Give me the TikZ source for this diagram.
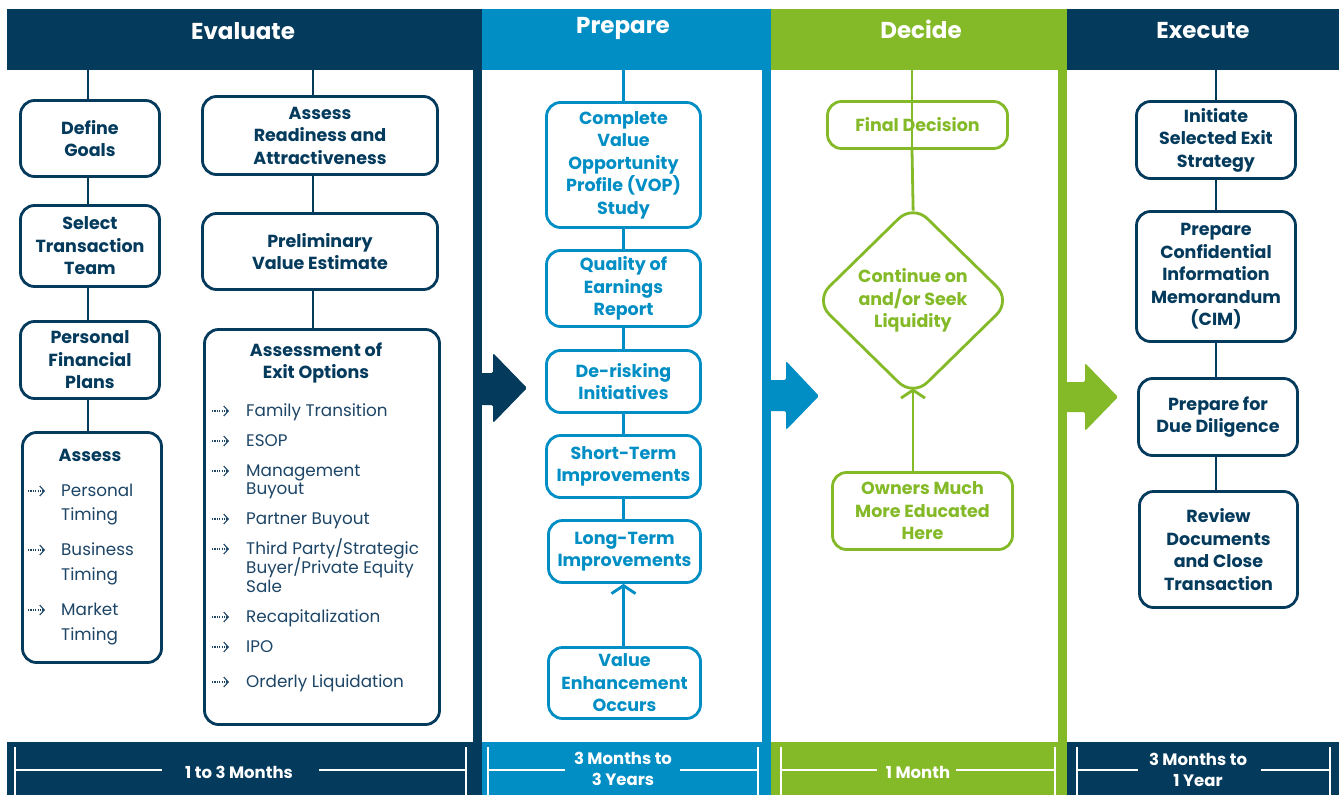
\documentclass[tikz,border=0pt]{standalone}
\usepackage{fontspec}
\setmainfont{Poppins}
\usetikzlibrary{shapes.geometric,arrows.meta,calc}
\definecolor{navy}{HTML}{043A5C}
\definecolor{cblue}{HTML}{008EC4}
\definecolor{cgreen}{HTML}{84BA27}
\definecolor{itemc}{HTML}{1D4566}
\newcommand\bxf{\fontsize{17.5}{22.5}\selectfont\bfseries}
\newcommand\hdf{\fontsize{23}{27}\selectfont\bfseries}
\newcommand\ftf{\fontsize{16.5}{21}\selectfont\bfseries}
\newcommand\itf{\fontsize{16.8}{18}\selectfont}
\tikzset{
  box/.style={draw, rounded corners=14pt, line width=2.8pt, fill=white,
    align=center, inner sep=0pt, font=\bxf},
  navybox/.style={box, draw=navy, text=navy},
  bluebox/.style={box, draw=cblue, text=cblue},
  greenbox/.style={box, draw=cgreen, text=cgreen},
  link/.style={line width=2.8pt},
  uparrow/.style={link, -{Straight Barb[length=8pt,width=24pt,line width=2.8pt]}},
  hdr/.style={inner sep=0pt, font=\hdf, text=white},
  band/.style={rectangle, inner sep=0pt},
  item/.style={anchor=base west, inner sep=0pt, font=\itf, text=itemc},
  bul/.style={itemc, line width=1.1pt, dash pattern=on 1.2pt off 1.2pt,
    -{Straight Barb[length=4.5pt,width=10pt,line width=1.1pt]}},
  ftxt/.style={inner sep=0pt, font=\ftf, text=white, align=center},
  tick/.style={white, line width=2.4pt},
}
\begin{document}
\begin{tikzpicture}[x=1pt,y=-1pt]
\useasboundingbox (0,0) rectangle (1341,795);
\fill[white] (0,0) rectangle (1341,795);

% header bands
\node[band, fill=navy,  minimum width=475, minimum height=61] (hEval) at (244.5,39.5) {};
\node[band, fill=cblue, minimum width=289, minimum height=61] (hPrep) at (626.5,39.5) {};
\node[band, fill=cgreen,minimum width=296, minimum height=61] (hDec)  at (919,39.5) {};
\node[band, fill=navy,  minimum width=272, minimum height=61] (hExe)  at (1203,39.5) {};
\node[hdr] (tEval) at (243,31) {Evaluate};
\node[hdr] (tPrep) at (623,28) {Prepare};
\node[hdr] (tDec)  at (921,29) {Decide};
\node[hdr] (tExe)  at (1203,31) {Execute};

% column separators
\fill[navy]   (473,70) rectangle (482,742);
\fill[cblue]  (762,70) rectangle (771,742);
\fill[cgreen] (1058,70) rectangle (1067,742);

% phase arrows
\fill[navy, rounded corners=1.5pt] (480,373) -- (493,373) -- (493,353) -- (527,388)
  -- (493,423) -- (493,405) -- (480,405) -- cycle;
\fill[cblue, rounded corners=1.5pt] (769,380) -- (786,380) -- (786,361) -- (819,396)
  -- (786,430) -- (786,411) -- (769,411) -- cycle;
\fill[cgreen, rounded corners=1.5pt] (1065,382) -- (1085,382) -- (1085,363) -- (1118,397)
  -- (1085,431) -- (1085,412) -- (1065,412) -- cycle;

% connector columns
\coordinate (lx) at (88,0);
\coordinate (rx) at (313,0);
\coordinate (dx) at (912,0);

% ---- Evaluate
\node[navybox, minimum width=139, minimum height=76] (goals) at (90,138.5) {Define\\Goals};
\node[navybox, minimum width=139, minimum height=81] (team) at (90,246) {Select\\Transaction\\Team};
\node[navybox, minimum width=139, minimum height=77] (plans) at (90,360) {Personal\\Financial\\Plans};
\node[navybox, minimum width=139, minimum height=230] (assess) at (92,547.5) {};
\node[inner sep=0pt, font=\bxf, text=navy] (tAssess) at (90,455) {Assess};

\node[navybox, minimum width=235, minimum height=78] (ready) at (320,135.5) {Assess\\Readiness and\\Attractiveness};
\node[navybox, minimum width=235, minimum height=76] (prelim) at (320,251.5) {Preliminary\\Value Estimate};
\node[navybox, minimum width=235, minimum height=395] (exits) at (322,527) {};
\node[inner sep=0pt, font=\bxf, text=navy, align=center] (tExits) at (316,363) {Assessment of\\Exit Options};

\draw[link, navy] (hEval.south -| lx) -- (goals.north -| lx);
\draw[link, navy] (goals.south -| lx) -- (team.north -| lx);
\draw[link, navy] (team.south -| lx) -- (plans.north -| lx);
\draw[link, navy] (plans.south -| lx) -- (assess.north -| lx);
\draw[link, navy] (hEval.south -| rx) -- (ready.north -| rx);
\draw[link, navy] (ready.south -| rx) -- (prelim.north -| rx);
\draw[link, navy] (prelim.south -| rx) -- (exits.north -| rx);

% timing list
\foreach \n/\yy/\t in {1/491/Personal, 2/515/Timing, 3/550/Business, 4/575/Timing, 5/610/Market, 6/635/Timing}
  \node[item] (as\n) at (61,\yy+5.5) {\t};
\foreach \n in {1,3,5}
  \draw[bul] ([shift={(-33,-5.5)}]as\n.base west) -- ++(17,0);

% exit options list
\foreach \n/\yy/\t in {1/411/{Family Transition}, 2/441/ESOP, 3/471/Management, 3b/489/Buyout,
    4/519/{Partner Buyout}, 5/549/{Third Party/Strategic}, 5b/568/{Buyer/Private Equity},
    5c/587/Sale, 6/617/Recapitalization, 7/647/IPO, 8/682/{Orderly Liquidation}}
  \node[item] (ex\n) at (246,\yy+5.5) {\t};
\foreach \n in {1,2,3,4,5,6,7,8}
  \draw[bul] ([shift={(-34,-5.5)}]ex\n.base west) -- ++(17,0);

% ---- Prepare
\node[bluebox, minimum width=154, minimum height=125] (vop) at (623.5,165) {Complete\\Value\\Opportunity\\Profile (VOP)\\Study};
\node[bluebox, minimum width=154, minimum height=76] (qoe) at (623.5,288.5) {Quality of\\Earnings\\Report};
\node[bluebox, minimum width=154, minimum height=62] (derisk) at (623.5,381.5) {De-risking\\Initiatives};
\node[bluebox, minimum width=154, minimum height=62] (short) at (623.5,466.5) {Short-Term\\Improvements};
\node[bluebox, minimum width=152, minimum height=62] (long) at (624.5,551.5) {Long-Term\\Improvements};
\node[bluebox, minimum width=152, minimum height=71] (venh) at (624.5,683) {Value\\Enhancement\\Occurs};

\draw[link, cblue] (hPrep.south -| vop) -- (vop.north);
\draw[link, cblue] (vop) -- (qoe);
\draw[link, cblue] (qoe) -- (derisk);
\draw[link, cblue] (derisk) -- (short);
\draw[link, cblue] (short.south) -- (long.north -| short.south);
\draw[uparrow, cblue] (venh.north -| short.south) -- (long.south -| short.south);

% ---- Decide
\node[greenbox, minimum width=180, minimum height=47] (final) at (917.5,125) {Final Decision};
\node[draw=cgreen, fill=white, line width=2.8pt, diamond, rounded corners=20pt, inner sep=0pt,
  minimum width=197, minimum height=193] (dia) at (913,300.5) {};
\node[inner sep=0pt, font=\bxf, text=cgreen, align=center] (tDia) at (dia.center) {Continue on\\and/or Seek\\Liquidity};
\node[greenbox, minimum width=180, minimum height=77] (owners) at (922.5,511) {Owners Much\\More Educated\\Here};

\draw[link, cgreen] (hDec.south -| dx) -- (final.south -| dx);
\draw[link, cgreen, shorten >=-8pt] (final.south -| dx) -- (dia.north);
\draw[uparrow, cgreen, shorten >=-10pt] (owners.north -| dia.south) -- (dia.south);

% ---- Execute
\node[navybox, minimum width=159, minimum height=77] (init) at (1216,140) {Initiate\\Selected Exit\\Strategy};
\node[navybox, minimum width=159, minimum height=130] (cim) at (1216,276.5) {Prepare\\Confidential\\Information\\Memorandum\\(CIM)};
\node[navybox, minimum width=159, minimum height=77] (dd) at (1218,417) {Prepare for\\Due Diligence};
\node[navybox, minimum width=158, minimum height=116] (review) at (1218.5,549.5) {Review\\Documents\\and Close\\Transaction};

\draw[link, navy] (hExe.south -| init) -- (init.north);
\draw[link, navy] (init.south) -- (cim.north -| init.south);
\draw[link, navy] (cim.south -| init.south) -- (dd.north -| init.south);
\draw[link, navy] (dd.south -| init.south) -- (review.north -| init.south);

% ---- duration bands
\fill[navy]   (7,742) rectangle (482,795);
\fill[cblue]  (482,742) rectangle (771,795);
\fill[cgreen] (771,742) rectangle (1067,795);
\fill[navy]   (1067,742) rectangle (1339,795);

\node[ftxt] (d1) at (239,772) {1 to 3 Months};
\node[ftxt] (d2) at (623,768.5) {3 Months to\\3 Years};
\node[ftxt] (d3) at (918,772) {1 Month};
\node[ftxt] (d4) at (1198,770) {3 Months to\\1 Year};

\draw[tick] (15,747) -- (15,795) (15,770) -- (162,770) (319,770) -- (466,770) (466,747) -- (466,795);
\draw[tick] (488,747) -- (488,795) (488,770) -- (565,770) (680,770) -- (758,770) (758,747) -- (758,795);
\draw[tick] (781,747) -- (781,795) (781,770) -- (877,770) (956,770) -- (1055,770) (1055,747) -- (1055,795);
\draw[tick] (1077,747) -- (1077,795) (1077,770) -- (1138,770) (1261,770) -- (1330,770) (1330,747) -- (1330,795);
\end{tikzpicture}
\end{document}
